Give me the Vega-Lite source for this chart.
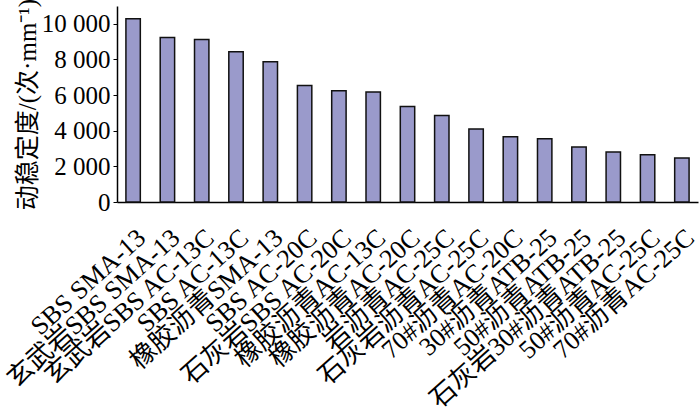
{
  "$schema": "https://vega.github.io/schema/vega-lite/v6.json",
  "autosize": "none",
  "width": 581,
  "height": 196,
  "padding": {"left": 117, "top": 6, "right": 2, "bottom": 206},
  "background": "white",
  "data": {
    "values": [
      {"mix": "SBS SMA-13", "v": 10280},
      {"mix": "玄武岩SBS SMA-13", "v": 9230},
      {"mix": "玄武岩SBS AC-13C", "v": 9120},
      {"mix": "SBS AC-13C", "v": 8430},
      {"mix": "橡胶沥青SMA-13", "v": 7870},
      {"mix": "SBS AC-20C", "v": 6540},
      {"mix": "石灰岩SBS AC-20C", "v": 6240},
      {"mix": "橡胶沥青AC-13C", "v": 6170},
      {"mix": "橡胶沥青AC-20C", "v": 5360},
      {"mix": "岩沥青AC-25C", "v": 4860},
      {"mix": "石灰岩沥青AC-25C", "v": 4090},
      {"mix": "70#沥青AC-20C", "v": 3660},
      {"mix": "30#沥青ATB-25", "v": 3550},
      {"mix": "50#沥青ATB-25", "v": 3085},
      {"mix": "石灰岩30#沥青ATB-25", "v": 2800},
      {"mix": "50#沥青AC-25C", "v": 2650},
      {"mix": "70#沥青AC-25C", "v": 2470}
    ]
  },
  "mark": {"type": "bar", "fill": "#9A9ACB", "stroke": "#111111", "strokeWidth": 1.5},
  "encoding": {
    "x": {
      "field": "mix",
      "type": "nominal",
      "sort": null,
      "scale": {"paddingInner": 0.58, "paddingOuter": 0.26},
      "axis": {
        "title": null,
        "labelAngle": -42,
        "labelFont": "Liberation Serif, Noto Sans CJK SC",
        "labelFontSize": 26,
        "labelColor": "#000000",
        "labelPadding": 22,
        "labelDx": 11,
        "labelLimit": 400,
        "labelOverlap": false,
        "ticks": false,
        "domainColor": "#000000",
        "domainWidth": 1.5
      }
    },
    "y": {
      "field": "v",
      "type": "quantitative",
      "scale": {"domain": [0, 11000], "nice": false},
      "axis": {
        "title": "动稳定度/(次·mm⁻¹)",
        "titleFont": "Liberation Serif, Noto Sans CJK SC",
        "titleFontSize": 25,
        "titleFontWeight": "normal",
        "titleColor": "#000000",
        "titlePadding": 1,
        "values": [0, 2000, 4000, 6000, 8000, 10000],
        "labelExpr": "replace(format(datum.value, ','), ',', ' ')",
        "labelFont": "Liberation Serif",
        "labelFontSize": 25,
        "labelColor": "#000000",
        "labelPadding": 3,
        "tickSize": 4,
        "tickColor": "#000000",
        "domainColor": "#000000",
        "domainWidth": 1.5,
        "grid": false
      }
    }
  },
  "config": {"view": {"stroke": null}}
}
